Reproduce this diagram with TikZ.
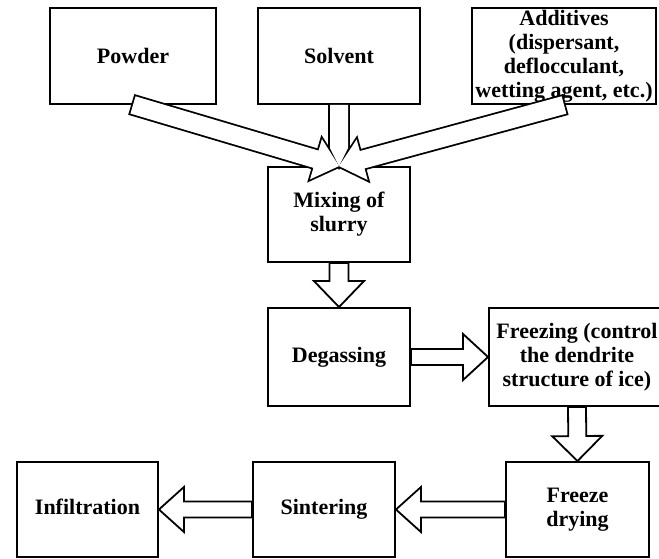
\documentclass[tikz,border=0pt]{standalone}
\usepackage{fontspec}
\setmainfont{Liberation Serif}
\usetikzlibrary{calc}
\pgfdeclarelayer{bg}
\pgfsetlayers{bg,main}
\newcommand\arrowpts[6]{%
  \coordinate (#6c) at ($(#2)!#5!(#1)$);
  \coordinate (#6a1) at ($(#1)!#3!90:(#2)$);
  \coordinate (#6a2) at ($(#1)!#3!-90:(#2)$);
  \coordinate (#6b1) at ($(#6c)!#3!90:(#2)$);
  \coordinate (#6b2) at ($(#6c)!#3!-90:(#2)$);
  \coordinate (#6h1) at ($(#6c)!#4!90:(#2)$);
  \coordinate (#6h2) at ($(#6c)!#4!-90:(#2)$);
  \coordinate (#6t) at (#2);
}
\newcommand\arrowpath[2]{\path[#2] (#1a1) -- (#1b1) -- (#1h1) -- (#1t) -- (#1h2) -- (#1b2) -- (#1a2) -- cycle;}
\tikzset{
  box/.style={draw, line width=1.9pt, inner sep=0pt, align=center,
    font=\bfseries\fontsize{22}{24}\selectfont},
  blockarrow/.style={draw, fill=white, line width=1.8pt, line join=miter},
}
\begin{document}
\begin{tikzpicture}[x=1pt,y=-1pt]
\useasboundingbox (0,0) rectangle (659,559);
\clip (0,0) rectangle (659,559);
\begin{pgfonlayer}{bg}
\fill[white] (0,0) rectangle (659,559);
% boxes
\node[box, minimum width=166pt, minimum height=96pt] (powder) at (133,56) {Powder};
\node[box, minimum width=162pt, minimum height=96pt] (solvent) at (339,56) {Solvent};
\node[box, minimum width=184pt, minimum height=96pt] (additives) at (564,56) {Additives\\(dispersant,\\deflocculant,\\wetting agent, etc.)};
\node[box, minimum width=142pt, minimum height=95pt] (mixing) at (339,214.5) {Mixing of\\slurry};
\node[box, minimum width=142pt, minimum height=98pt] (degassing) at (339,357) {Degassing};
\node[box, minimum width=176pt, minimum height=98pt] (freezing) at (577,357) {Freezing (control\\the dendrite\\structure of ice)};
\node[box, minimum width=143pt, minimum height=95pt] (fdrying) at (577.5,509.5) {Freeze\\drying};
\node[box, minimum width=142pt, minimum height=95pt] (sintering) at (324,509.5) {Sintering\vphantom{I}};
\node[box, minimum width=141pt, minimum height=95pt] (infiltration) at (87.5,509.5) {Infiltration\vphantom{g}};
\end{pgfonlayer}
% arrow geometry
\arrowpts{powder.south}{mixing.north}{9pt}{21pt}{24pt}{pa}
\arrowpts{additives.south}{mixing.north}{9pt}{21pt}{24pt}{aa}
\arrowpts{solvent.south}{mixing.north}{9pt}{9pt}{18pt}{sa}
\arrowpts{mixing.south}{degassing.north}{9.5pt}{25pt}{26pt}{md}
\arrowpts{degassing.east}{freezing.west}{8pt}{23pt}{25pt}{df}
\arrowpts{freezing.south}{fdrying.north}{9pt}{25pt}{25pt}{ff}
\arrowpts{fdrying.west}{sintering.east}{8pt}{22.5pt}{25pt}{fs}
\arrowpts{sintering.west}{infiltration.east}{8pt}{22.5pt}{25pt}{si}
% merged inputs to mixing
\arrowpath{pa}{draw, line width=3.6pt, line join=miter}
\arrowpath{aa}{draw, line width=3.6pt, line join=miter}
\arrowpath{sa}{draw, line width=3.6pt, line join=miter}
\arrowpath{pa}{fill=white}
\arrowpath{aa}{fill=white}
\arrowpath{sa}{fill=white}
% process arrows
\arrowpath{md}{blockarrow}
\arrowpath{df}{blockarrow}
\arrowpath{ff}{blockarrow}
\arrowpath{fs}{blockarrow}
\arrowpath{si}{blockarrow}
\end{tikzpicture}
\end{document}
